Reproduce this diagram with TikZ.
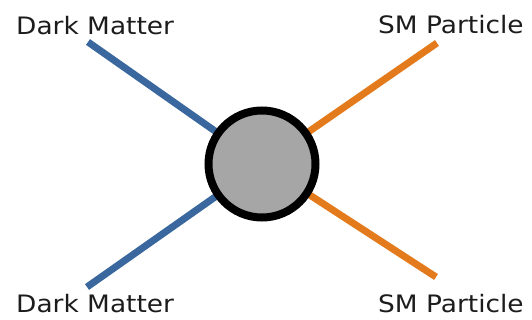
\documentclass[tikz,border=0pt]{standalone}
\usepackage{fontspec}
\setmainfont{DejaVu Sans}
\definecolor{dmblue}{HTML}{3A679E}
\definecolor{smorange}{HTML}{E37A1C}
\definecolor{blobgray}{HTML}{A6A6A6}
\definecolor{labelink}{HTML}{1C1C1C}
\tikzset{
  leg/.style={line width=7pt},
  dmleg/.style={leg, draw=dmblue},
  smleg/.style={leg, draw=smorange},
  blob/.style={circle, draw=black, line width=8pt, fill=blobgray,
    minimum size=107pt, inner sep=0pt},
  particle/.style={anchor=base west, inner sep=0pt, text=labelink,
    font=\fontsize{24}{24}\selectfont},
}
\newcommand{\widelabel}[1]{\scalebox{1.1}[1]{#1}}
\begin{document}
\begin{tikzpicture}[x=1pt, y=-1pt]
  \useasboundingbox (0,0) rectangle (532,320);
  % vertex and external leg ends
  \coordinate (v) at (262,164);
  \coordinate (dm1) at (88,42);
  \coordinate (dm2) at (87,287);
  \coordinate (sm1) at (437,43);
  \coordinate (sm2) at (436,277);
  % legs run into the blob
  \draw[dmleg] (dm1) -- (v);
  \draw[dmleg] (dm2) -- (v);
  \draw[smleg] (sm1) -- (v);
  \draw[smleg] (sm2) -- (v);
  % effective interaction blob
  \node[blob] (core) at (v) {};
  % labels
  \node[particle] (ldm1) at (16,35) {\widelabel{Dark Matter}};
  \node[particle] (lsm1) at (378,34) {\widelabel{SM Particle}};
  \node[particle] (ldm2) at (16,312) {\widelabel{Dark Matter}};
  \node[particle] (lsm2) at (378,312) {\widelabel{SM Particle}};
\end{tikzpicture}
\end{document}
